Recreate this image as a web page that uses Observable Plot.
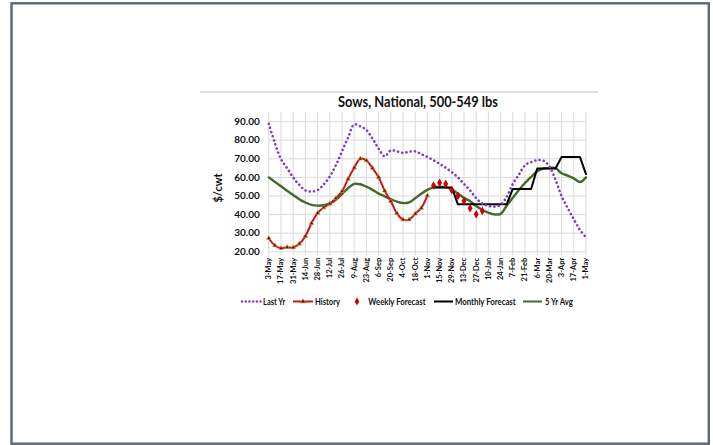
<!DOCTYPE html>
<html>
<head>
<meta charset="utf-8">
<script src="https://cdn.jsdelivr.net/npm/d3@7"></script>
<script src="https://cdn.jsdelivr.net/npm/@observablehq/plot@0.6"></script>
<style>
  html, body { margin: 0; padding: 0; background: #fff; }
  #chart { position: relative; width: 713px; height: 445px; }
</style>
</head>
<body>
<div id="chart"></div>
<script>
// Tick labels (every second week)
const dateLabels = ["3-May","17-May","31-May","14-Jun","28-Jun","12-Jul","26-Jul","9-Aug","23-Aug","6-Sep","20-Sep","4-Oct","18-Oct","1-Nov","15-Nov","29-Nov","13-Dec","27-Dec","10-Jan","24-Jan","7-Feb","21-Feb","6-Mar","20-Mar","3-Apr","17-Apr","1-May"];

// Weekly series ($/cwt), week 0 = 3-May
const lastYr = [88.8,78.5,69.8,65.0,60.0,56.0,53.0,52.4,53.2,56.2,60.5,66.5,74.0,81.5,88.5,87.5,85.5,80.8,75.5,71.3,74.5,74.0,73.2,73.8,74.0,72.5,71.0,69.2,67.3,65.2,62.8,60.0,56.5,53.0,48.8,46.0,44.7,44.3,45.3,49.5,56.5,61.5,66.5,68.2,69.3,69.0,66.0,58.7,50.0,43.5,37.5,31.8,27.8];
const history = [27.3,23.4,21.9,22.5,22.3,24.3,28.4,35.4,40.8,43.8,45.8,48.8,52.5,59.2,65.2,70.0,69.1,65.0,60.1,52.8,47.2,40.7,37.3,37.3,40.4,43.6,50.2];
const weeklyStart = 27;
const weeklyForecast = [55.6,57.1,56.5,53.1,50.0,47.3,43.4,40.2,42.0];
const monthlyStart = 27;
const monthlyForecast = [54.6,54.6,54.6,54.6,45.5,45.5,45.5,45.5,45.5,45.5,45.5,45.5,45.5,53.8,53.8,53.8,53.8,64.8,64.8,64.8,64.8,71.0,71.0,71.0,71.0,61.8];
const fiveYrAvg = [60.0,57.6,55.2,52.8,50.5,48.3,46.5,45.2,44.8,45.0,46.0,48.0,51.0,54.2,56.5,56.3,55.0,53.3,51.3,49.8,48.3,47.0,46.2,46.6,48.8,51.2,53.3,54.6,55.0,54.7,53.6,51.3,49.0,47.2,44.6,42.5,41.0,40.1,40.4,44.8,49.0,53.2,57.0,60.3,63.3,64.8,65.0,65.0,62.2,61.0,59.5,57.5,60.0];
const yTicks = [20,30,40,50,60,70,80,90];

const toRows = (arr, start = 0) => arr.map((v, i) => ({w: i + start, v}));
const rowsLast = toRows(lastYr);
const rowsHist = toRows(history);
const rowsWeekly = toRows(weeklyForecast, weeklyStart);
const rowsMonthly = toRows(monthlyForecast, monthlyStart);
const rowsAvg = toRows(fiveYrAvg);
const xTicks = dateLabels.map((d, i) => i * 2);

const FONT = "Lato, 'Open Sans', sans-serif";
const C = {last: "#7b3fc4", hist: "#c8141b", weekly: "#cc0000", monthly: "#000000", avg: "#46692b", grid: "#d9d9d9"};

const plot = Plot.plot({
  width: 713,
  height: 445,
  marginLeft: 268.3,
  marginRight: 713 - 585.5,
  marginTop: 111.8,
  marginBottom: 445 - 251.3,
  style: {fontFamily: FONT, background: "transparent", overflow: "visible"},
  x: {domain: [0, 52]},
  y: {domain: [20, 95]},
  marks: [
    Plot.gridY(yTicks, {stroke: C.grid, strokeOpacity: 1, strokeWidth: 1}),
    Plot.gridX(xTicks, {stroke: C.grid, strokeOpacity: 1, strokeWidth: 1}),
    Plot.axisY(yTicks, {tickSize: 0, tickPadding: 9, tickFormat: d => d.toFixed(2), fontWeight: "bold", fontSize: 10, fill: "#111", label: null}),
    Plot.axisX(xTicks, {tickSize: 4, tickPadding: 2, tickRotate: -90, tickFormat: i => dateLabels[i / 2], fontWeight: "bold", fontSize: 7.5, fill: "#111", stroke: C.grid, label: null}),
    Plot.line(rowsAvg, {x: "w", y: "v", stroke: C.avg, strokeWidth: 2.4, curve: "catmull-rom"}),
    Plot.line(rowsMonthly, {x: "w", y: "v", stroke: C.monthly, strokeWidth: 2}),
    Plot.line(rowsLast, {x: "w", y: "v", stroke: C.last, strokeWidth: 2.6, strokeDasharray: "0.1 4.2", strokeLinecap: "round", curve: "catmull-rom"}),
    Plot.line(rowsHist, {x: "w", y: "v", stroke: C.hist, strokeWidth: 2, curve: "catmull-rom"}),
    Plot.dot(rowsHist, {x: "w", y: "v", symbol: "triangle", r: 1.6, fill: "#3b1d05", stroke: "#e58a32", strokeWidth: 0.7}),
    Plot.dot(rowsWeekly, {x: "w", y: "v", symbol: "diamond", r: 2.6, fill: C.weekly})
  ]
});
document.getElementById("chart").appendChild(plot);

// Decorations: frame, rule, title, axis label, legend
const svg = d3.select(plot);
svg.insert("rect", ":first-child")
  .attr("x", 11.5).attr("y", 3.3).attr("width", 697.3).attr("height", 440.4)
  .attr("fill", "none").attr("stroke", "#5b6771").attr("stroke-width", 2.4);
svg.append("line").attr("x1", 200).attr("x2", 598).attr("y1", 92).attr("y2", 92)
  .attr("stroke", "#bfbfbf").attr("stroke-width", 1);
svg.append("text").attr("x", 418).attr("y", 107).attr("text-anchor", "middle")
  .attr("font-family", FONT).attr("font-weight", "bold").attr("font-size", 14.5).attr("fill", "#111")
  .attr("textLength", 160).attr("lengthAdjust", "spacingAndGlyphs")
  .text("Sows, National, 500-549 lbs");
svg.append("text").attr("transform", "translate(222,188) rotate(-90)").attr("text-anchor", "middle")
  .attr("font-family", FONT).attr("font-weight", "bold").attr("font-size", 11).attr("fill", "#111")
  .text("$/cwt");

const LY = 301.5;
const lg = svg.append("g").attr("font-family", FONT).attr("font-size", 9.5).attr("font-weight", "bold")
  .attr("fill", "#111").attr("text-anchor", "start");
const legendItems = [
  {label: "Last Yr", x0: 242, x1: 261, tx: 263, tw: 22.3, kind: "dotted"},
  {label: "History", x0: 293, x1: 313, tx: 315, tw: 25, kind: "hist"},
  {label: "Weekly Forecast", x0: 357, x1: 357, tx: 368.3, tw: 57.3, kind: "diamond"},
  {label: "Monthly Forecast", x0: 434, x1: 453, tx: 455, tw: 60.7, kind: "monthly"},
  {label: "5 Yr Avg", x0: 523, x1: 542, tx: 545, tw: 27.7, kind: "avg"}
];
for (const it of legendItems) {
  if (it.kind === "dotted") {
    lg.append("line").attr("x1", it.x0).attr("x2", it.x1).attr("y1", LY).attr("y2", LY)
      .attr("stroke", C.last).attr("stroke-width", 2.4).attr("stroke-dasharray", "0.1 3.6").attr("stroke-linecap", "round");
  } else if (it.kind === "hist") {
    lg.append("line").attr("x1", it.x0).attr("x2", it.x1).attr("y1", LY).attr("y2", LY)
      .attr("stroke", C.hist).attr("stroke-width", 2);
    lg.append("path").attr("d", d3.symbol(d3.symbolTriangle, 10)()).attr("transform", `translate(${(it.x0 + it.x1) / 2},${LY})`)
      .attr("fill", "#3b1d05").attr("stroke", "#e58a32").attr("stroke-width", 0.7);
  } else if (it.kind === "diamond") {
    lg.append("path").attr("d", d3.symbol(d3.symbolDiamond, 18)()).attr("transform", `translate(${it.x0},${LY})`)
      .attr("fill", C.weekly);
  } else {
    lg.append("line").attr("x1", it.x0).attr("x2", it.x1).attr("y1", LY).attr("y2", LY)
      .attr("stroke", it.kind === "monthly" ? C.monthly : C.avg).attr("stroke-width", 2);
  }
  lg.append("text").attr("x", it.tx).attr("y", LY).attr("dy", "0.35em")
    .attr("textLength", it.tw).attr("lengthAdjust", "spacingAndGlyphs").text(it.label);
}
</script>
</body>
</html>
